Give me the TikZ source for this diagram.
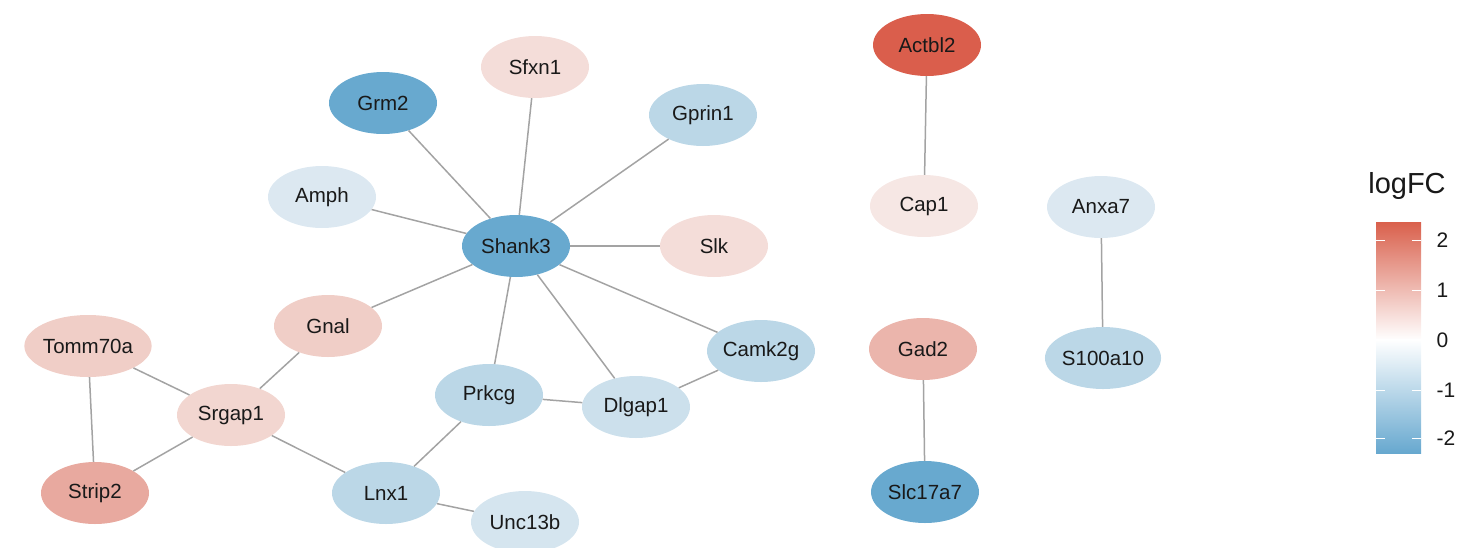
\documentclass[tikz,border=0pt]{standalone}
\usepackage{fontspec}
\setmainfont{Liberation Sans}
\usetikzlibrary{shapes.geometric}
\definecolor{edgegray}{HTML}{A3A3A3}
\definecolor{cActbl}{HTML}{DA5E4C}
\definecolor{cStrip}{HTML}{E8A99F}
\definecolor{cGad}{HTML}{EBB5AC}
\definecolor{cTomm}{HTML}{F0CEC7}
\definecolor{cSrgap}{HTML}{F2D6D0}
\definecolor{cSfxn}{HTML}{F4DDD9}
\definecolor{cCap}{HTML}{F6E7E4}
\definecolor{cDark}{HTML}{68A9CF}
\definecolor{cMid}{HTML}{BBD7E7}
\definecolor{cDlg}{HTML}{CCE0EC}
\definecolor{cLight}{HTML}{DCE8F1}
\definecolor{cUnc}{HTML}{D5E5EF}
\definecolor{legRed}{HTML}{D9604C}
\definecolor{legBlue}{HTML}{67A8CF}
\tikzset{
  gene/.style={ellipse, minimum width=108pt, minimum height=62pt, inner sep=0pt,
    font=\fontsize{20.5}{24}\selectfont, text=black!90},
  link/.style={draw=edgegray, line width=1.5pt},
  legtxt/.style={font=\fontsize{21}{24}\selectfont, anchor=west, text=black!90},
  tick/.style={draw=white, line width=0.8pt}
}
\begin{document}
\begin{tikzpicture}[x=1pt,y=-1pt]
\useasboundingbox (0,0) rectangle (1473,547);
% nodes
\node[gene, fill=cSfxn]  (sfxn1)   at (535,67)  {Sfxn1};
\node[gene, fill=cDark]  (grm2)    at (383,103) {Grm2};
\node[gene, fill=cMid]   (gprin1)  at (703,115) {Gprin1};
\node[gene, fill=cLight] (amph)    at (322,197) {Amph};
\node[gene, fill=cDark]  (shank3)  at (516,246) {Shank3};
\node[gene, fill=cSfxn]  (slk)     at (714,246) {Slk};
\node[gene, fill=cActbl] (actbl2)  at (927,45)  {Actbl2};
\node[gene, fill=cCap]   (cap1)    at (924,206) {Cap1};
\node[gene, fill=cLight] (anxa7)   at (1101,207) {Anxa7};
\node[gene, fill=cTomm]  (gnal)    at (328,326) {Gnal};
\node[gene, fill=cTomm]  (tomm70a) at (88,346)  {Tomm70a};
\node[gene, fill=cMid]   (camk2g)  at (761,351) {Camk2g};
\node[gene, fill=cGad]   (gad2)    at (923,349) {Gad2};
\node[gene, fill=cMid]   (s100a10) at (1103,358) {S100a10};
\node[gene, fill=cSrgap] (srgap1)  at (231,415) {Srgap1};
\node[gene, fill=cMid]   (prkcg)   at (489,395) {Prkcg};
\node[gene, fill=cDlg]   (dlgap1)  at (636,407) {Dlgap1};
\node[gene, fill=cStrip] (strip2)  at (95,493)  {Strip2};
\node[gene, fill=cMid]   (lnx1)    at (386,493) {Lnx1};
\node[gene, fill=cUnc]   (unc13b)  at (525,522) {Unc13b};
\node[gene, fill=cDark]  (slc17a7) at (925,492) {Slc17a7};
% edges
\foreach \a/\b in {shank3/grm2, shank3/sfxn1, shank3/gprin1, shank3/amph, shank3/slk,
  shank3/gnal, shank3/prkcg, shank3/dlgap1, shank3/camk2g, gnal/srgap1,
  tomm70a/srgap1, tomm70a/strip2, srgap1/strip2, srgap1/lnx1, lnx1/prkcg,
  lnx1/unc13b, prkcg/dlgap1, dlgap1/camk2g, actbl2/cap1, anxa7/s100a10, gad2/slc17a7}
  \draw[link] (\a) -- (\b);
% legend
\node[font=\fontsize{29}{32}\selectfont, text=black!90] (legtitle) at (1407,186) {logFC};
\shade[top color=legRed, bottom color=white] (1376,222) rectangle (1421,340);
\shade[top color=white, bottom color=legBlue] (1376,339.5) rectangle (1421,453);
\foreach \v/\y in {2/240,1/290,0/340,-1/390,-2/438}{
  \draw[tick] (1376,\y) -- (1385,\y);
  \draw[tick] (1412,\y) -- (1421,\y);
}
\node[legtxt] (l2)  at (1433,240) {2};
\node[legtxt] (l1)  at (1433,290) {1};
\node[legtxt] (l0)  at (1433,340) {0};
\node[legtxt] (lm1) at (1433,390) {-1};
\node[legtxt] (lm2) at (1433,438) {-2};
\end{tikzpicture}
\end{document}
